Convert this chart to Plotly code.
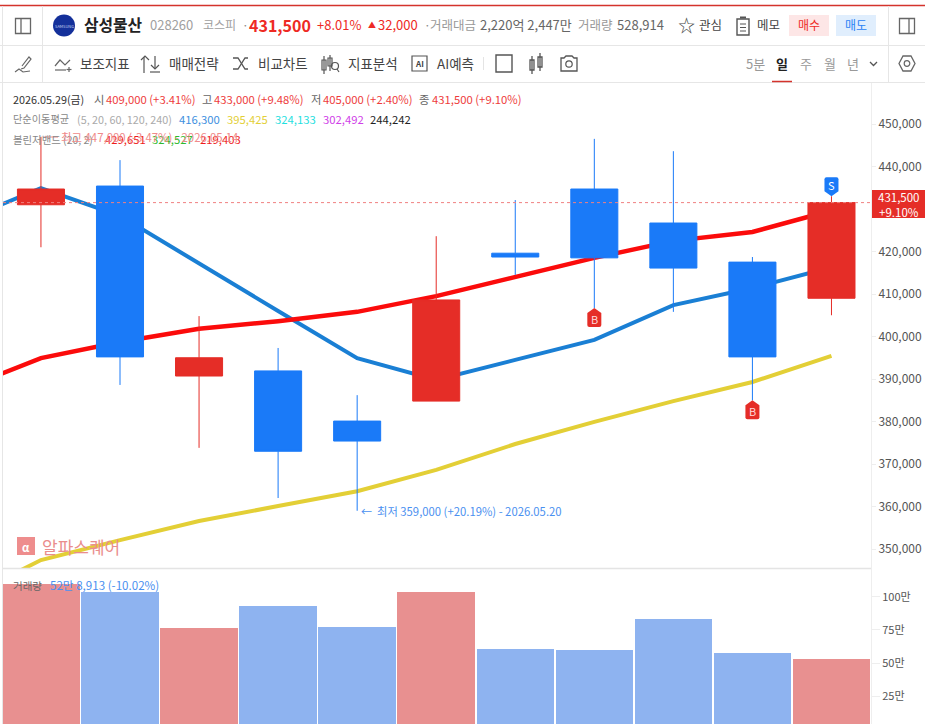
import plotly.graph_objects as go
from plotly.subplots import make_subplots

# ---------- data ----------
dates = ["05.14","05.15","05.18","05.19","05.20","05.21","05.22","05.26","05.27","05.28","05.29"]
opens  = [431000,435400,390700,391900,380100,384800,419600,434700,426700,417500,409000]
closes = [434700,395200,395000,373000,375400,408600,418700,418500,416100,395200,431500]
highs  = [447000,441500,404800,397300,386200,423600,432100,446500,443600,418700,433000]
lows   = [421000,388600,373800,362000,359000,384800,414500,406700,405800,385000,405000]
volumes = [1098000,1038000,765000,932000,773000,1038000,606000,598000,833000,576000,528913]

line_x = [-1,0,1,2,3,4,5,6,7,8,9,10]
ma5   = [427200,434900,428400,417100,406000,394900,389800,394500,399200,407400,411400,416300]
ma20  = [338000,347400,352100,356600,360100,363600,368600,374700,379900,384800,389300,395425]
boll_upper = [387600,394900,398700,401800,403600,405800,409500,414000,418500,422500,424600,429651]

price_ticks = [350000,360000,370000,380000,390000,400000,410000,420000,430000,440000,450000]
vol_ticks = [250000,500000,750000,1000000]
vol_tick_labels = ["25만","50만","75만","100만"]

FONT = "Noto Sans CJK KR"
RED, BLUE = "#e52d27", "#1a7af8"
W, H = 925, 724

def px(x): return x / W
def py(y): return 1 - y / H

fig = make_subplots(rows=2, cols=1, shared_xaxes=True, vertical_spacing=0)

fig.add_trace(go.Scatter(x=line_x, y=ma5, mode="lines", line=dict(color="#1a7fd4", width=4)), 1, 1)
fig.add_trace(go.Scatter(x=line_x, y=ma20, mode="lines", line=dict(color="#e3cf36", width=4)), 1, 1)
fig.add_trace(go.Scatter(x=line_x, y=boll_upper, mode="lines", line=dict(color="#fb0b0b", width=4.5)), 1, 1)
idx = list(range(len(dates)))
fig.add_trace(go.Candlestick(
    x=idx, open=opens, high=highs, low=lows, close=closes, whiskerwidth=0, xaxis="x", yaxis="y3",
    increasing=dict(line=dict(color=RED, width=1), fillcolor=RED),
    decreasing=dict(line=dict(color=BLUE, width=1), fillcolor=BLUE)))
fig.add_trace(go.Bar(
    x=idx, y=volumes, width=0.98,
    marker=dict(color=["#e89090" if c >= o else "#8eb3f0" for o, c in zip(opens, closes)], line=dict(width=0))), 2, 1)

ann, shapes = [], []

def text(x, y, s, color="#333", size=12, anchor="left", bold=False, opacity=1):
    ann.append(dict(text=f"<b>{s}</b>" if bold else s, x=px(x), y=py(y), xref="paper", yref="paper",
                    xanchor=anchor, yanchor="middle", showarrow=False, opacity=opacity,
                    font=dict(family=FONT, size=size, color=color), borderpad=0))

def line(x0, y0, x1, y1, color="#e6e6e6", width=1, dash="solid", layer="above"):
    shapes.append(dict(type="line", xref="paper", yref="paper", x0=px(x0), y0=py(y0), x1=px(x1), y1=py(y1),
                       line=dict(color=color, width=width, dash=dash), layer=layer))

def rect(x0, y0, x1, y1, fill=None, color=None, width=1):
    shapes.append(dict(type="rect", xref="paper", yref="paper", x0=px(x0), y0=py(y0), x1=px(x1), y1=py(y1),
                       fillcolor=fill, line=dict(color=color, width=width if color else 0)))

def path(points, color="#555", width=1.3, fill=None, close=False):
    d = "M" + " L".join(f"{px(x):.5f},{py(y):.5f}" for x, y in points) + (" Z" if close else "")
    shapes.append(dict(type="path", xref="paper", yref="paper", path=d, fillcolor=fill,
                       line=dict(color=color, width=width)))

def circle(cx, cy, r, fill=None, color=None, width=1.2):
    shapes.append(dict(type="circle", xref="paper", yref="paper", x0=px(cx-r), x1=px(cx+r), y0=py(cy+r), y1=py(cy-r),
                       fillcolor=fill, line=dict(color=color, width=width if color else 0)))

def badge(i, price, label, color, up=True):
    s = 1 if up else -1
    p = f"M0,0 L7,{-5*s} L7,{-17*s} Q7,{-19*s} 5,{-19*s} L-5,{-19*s} Q-7,{-19*s} -7,{-17*s} L-7,{-5*s} Z"
    shapes.append(dict(type="path", xref="x", yref="y", xsizemode="pixel", ysizemode="pixel",
                       xanchor=i, yanchor=price, path=p, fillcolor=color, line=dict(width=0)))
    ann.append(dict(text=label, x=i, y=price, xref="x", yref="y", showarrow=False, yshift=-11*s,
                    font=dict(family=FONT, size=11, color="#ffd9d9" if up else "#ffffff")))

# ---------- header ----------
line(0, 5.5, W, 5.5, "#d4332c", 1.5)
line(0, 45.5, W, 45.5)
line(0, 82.5, W, 82.5)
line(42.5, 6, 42.5, 82)
line(888.5, 6, 888.5, 82)
line(2.5, 6, 2.5, H)
line(871.5, 83, 871.5, H, "#eeeeee")
line(3, 568.5, 871, 568.5, "#e4e4e4", 1.5)

rect(15.5, 18.5, 30.5, 33.5, color="#666", width=1.3); line(21, 18.5, 21, 33.5, "#666", 1.3)
rect(899.5, 18.5, 914.5, 33.5, color="#666", width=1.3); line(909, 18.5, 909, 33.5, "#666", 1.3)
circle(64, 25.5, 11, fill="#14309a")
text(64, 25.5, "SAMSUNG", "#c8d0f0", 4, "center")
text(83, 25, "삼성물산", "#222", 15.8, bold=True)
text(149, 25, "028260", "#a0a0a0", 13)
text(202, 25, "코스피", "#a0a0a0", 12)
text(241, 25, "·", "#888", 12)
text(248, 25, "431,500", "#ee2a24", 16, bold=True)
text(316, 25, "+8.01%", "#ee2a24", 13)
text(367, 25, "▲", "#ee2a24", 8)
text(377, 25, "32,000", "#ee2a24", 13)
text(423, 25, "·", "#888", 12)
text(429, 25, "거래대금", "#999", 12.5)
text(479, 25, "2,220억 2,447만", "#666", 13)
text(577, 25, "거래량", "#999", 12.5)
text(616, 25, "528,914", "#666", 13)
text(677, 25, "☆", "#444", 17)
text(698, 24, "관심", "#444", 12.5)
rect(737, 19, 749, 35, color="#555", width=1.4)
line(740, 24, 746, 24, "#555", 1); line(740, 27.5, 746, 27.5, "#555", 1); line(740, 31, 746, 31, "#555", 1)
line(740, 17.5, 746, 17.5, "#555", 2)
text(756, 24, "메모", "#444", 12.5)
rect(789, 15, 829, 36, fill="#fde6e6")
rect(836, 15, 876, 36, fill="#e0eefd")
text(809, 25, "매수", "#ee2a24", 12, "center")
text(856, 25, "매도", "#2a83f5", 12, "center")

# toolbar
path([(22, 66), (29, 57), (31, 59), (24, 68), (21, 69)], "#666", 1.2)
path([(15, 72), (19, 69), (23, 72), (30, 71)], "#666", 1.1)
path([(55, 66), (60, 60), (65, 65), (70, 60)], "#666", 1.2)
line(55, 70, 66, 70, "#666", 1.2); line(69, 67, 69, 72, "#666", 1.2); line(66.5, 69.5, 71.5, 69.5, "#666", 1.2)
text(79, 63, "보조지표", "#444", 13.5)
path([(144, 73), (144, 57)], "#555", 1.2)
path([(141, 60), (145, 56), (149, 60)], "#555", 1.2)
path([(155, 56), (155, 68)], "#555", 1.2); path([(151, 65), (155, 69), (159, 65)], "#555", 1.2)
line(150, 72, 160, 72, "#555", 1.2)
text(168, 63, "매매전략", "#444", 13.5)
path([(233, 58), (238, 58), (245, 69), (248, 69)], "#555", 1.3)
path([(233, 69), (238, 69), (245, 58), (248, 58)], "#555", 1.3)
text(257, 63, "비교차트", "#444", 13.5)
rect(322, 60, 326, 70, color="#555", width=1.2); line(324, 56, 324, 74, "#555", 1.2)
rect(328, 58, 332, 66, color="#555", width=1.2); line(330, 55, 330, 71, "#555", 1.2)
circle(335, 66, 3.5, color="#555"); line(337, 69, 339, 72, "#555", 1.2)
text(347, 63, "지표분석", "#444", 13.5)
rect(412, 56, 427, 71, color="#555", width=1.2)
text(419.5, 63.5, "AI", "#444", 8, "center", bold=True)
text(436, 63, "AI예측", "#444", 13.5)
line(483.5, 57, 483.5, 70, "#e4e4e4")
rect(496, 55, 512, 72, color="#555", width=1.4)
rect(530, 60, 534, 70, color="#555", width=1.3); line(532, 56, 532, 74, "#555", 1.3)
rect(538, 57, 542, 67, color="#555", width=1.3); line(540, 53, 540, 71, "#555", 1.3)
path([(561, 58), (564, 58), (566, 56), (572, 56), (574, 58), (577, 58), (577, 71), (561, 71)], "#555", 1.3, close=True)
circle(569, 64, 3.2, color="#555")
text(745, 63, "5분", "#999", 13)
text(775, 63, "일", "#222", 13, bold=True)
text(799, 63, "주", "#999", 13)
text(823, 63, "월", "#999", 13)
text(846, 63, "년", "#999", 13)
line(772, 81.5, 792, 81.5, "#d4332c", 1.5)
path([(870, 62), (873.5, 65.5), (877, 62)], "#555", 1.3)
path([(899, 63.5), (903, 56), (911, 56), (915, 63.5), (911, 71), (903, 71)], "#666", 1.3, close=True)
circle(907, 63.5, 2.8, color="#666")

# ---------- legends ----------
G = "#888"
LS = 11.3
text(12, 99, "2026.05.29(금)", "#333", 10.8)
text(93, 99, "시", "#666", LS); text(105, 99, "409,000 (+3.41%)", "#ee3b3b", LS)
text(201, 99, "고", "#666", LS); text(213, 99, "433,000 (+9.48%)", "#ee3b3b", LS)
text(310, 99, "저", "#666", LS); text(322, 99, "405,000 (+2.40%)", "#ee3b3b", LS)
text(418, 99, "종", "#666", LS); text(431, 99, "431,500 (+9.10%)", "#ee3b3b", LS)
text(12, 118.5, "단순이동평균", G, 10.2); text(76, 118.5, "(5, 20, 60, 120, 240)", "#aaa", 10.8)
text(178, 118.5, "416,300", "#3d8fe0", LS); text(226, 118.5, "395,425", "#e3cf36", LS)
text(274, 118.5, "324,133", "#1fe0e0", LS); text(322, 118.5, "302,492", "#d040e8", LS)
text(369, 118.5, "244,242", "#222", LS)
text(12, 139, "볼린저밴드 (20, 2)", G, 10.4)
text(104, 139, "429,651", "#ee1c1c", LS); text(151, 139, "324,527", "#2eb82e", LS); text(199, 139, "219,403", "#ee1c1c", LS)
line(44, 137, 58, 137, "#f08a8a", 1)
text(60, 137, "최고 447,000 (-3.47%) - 2026.05.14", "#f08a8a", 11.4)
text(12, 585, "거래량", "#666", 10.5)
text(49, 585, "52만 8,913 (-10.02%)", "#4a90f0", 11.6)

# lowest point
text(360, 511, "←", "#4a90f0", 11)
text(376, 511, "최저 359,000 (+20.19%) - 2026.05.20", "#4a90f0", 11.3)

# watermark
rect(17, 537, 35, 555, fill="#ee8d8d")
text(26, 547, "α", "#ffffff", 11, "center", bold=True)
text(41, 546, "알파스퀘어", "#ea8d8d", 17)

# last price
shapes.append(dict(type="line", xref="x", yref="y", x0=-0.48, x1=10.5, y0=closes[-1], y1=closes[-1],
                   line=dict(color="#f08080", width=1, dash="dot")))
rect(872, 190, 925, 218, fill="#e52d27")
text(898.5, 204, "431,500<br>+9.10%", "#fff", 11.5, "center")

badge(7, lows[7], "B", "#e52d27", True)
badge(9, lows[9], "B", "#e52d27", True)
badge(10, highs[10], "S", "#1a7af8", False)

axis_font = dict(family=FONT, size=12, color="#555")
prange = [345529, 459647]
fig.update_layout(
    width=W, height=H, margin=dict(l=0, r=0, t=0, b=0), paper_bgcolor="#fff", plot_bgcolor="#fff",
    showlegend=False, hovermode=False, boxgap=0.405, boxgroupgap=0, bargap=0, dragmode=False,
    annotations=ann, shapes=shapes,
    xaxis=dict(domain=[px(3), px(871)], range=[-0.48, 10.5], visible=False, rangeslider=dict(visible=False)),
    xaxis2=dict(domain=[px(3), px(871)], range=[-0.48, 10.5], visible=False, matches="x", rangeslider=dict(visible=False)),
    yaxis=dict(domain=[py(568), py(83)], range=prange, side="right", tickvals=price_ticks,
               tickformat=",d", showgrid=False, zeroline=False, ticks="outside", ticklen=4, tickcolor="#eee",
               tickfont=axis_font),
    yaxis3=dict(overlaying="y", range=prange, side="right", visible=False),
    yaxis2=dict(domain=[0, py(569)], range=[37900, 1212000], side="right", tickvals=vol_ticks, ticktext=vol_tick_labels,
                showgrid=False, zeroline=False, ticks="outside", ticklen=8, tickcolor="#eee",
                tickfont=dict(family=FONT, size=11, color="#555")),
)
fig.write_html("out.html", config=dict(displayModeBar=False, staticPlot=True),
               post_script="document.body.style.margin='0';document.body.style.overflow='hidden';")
